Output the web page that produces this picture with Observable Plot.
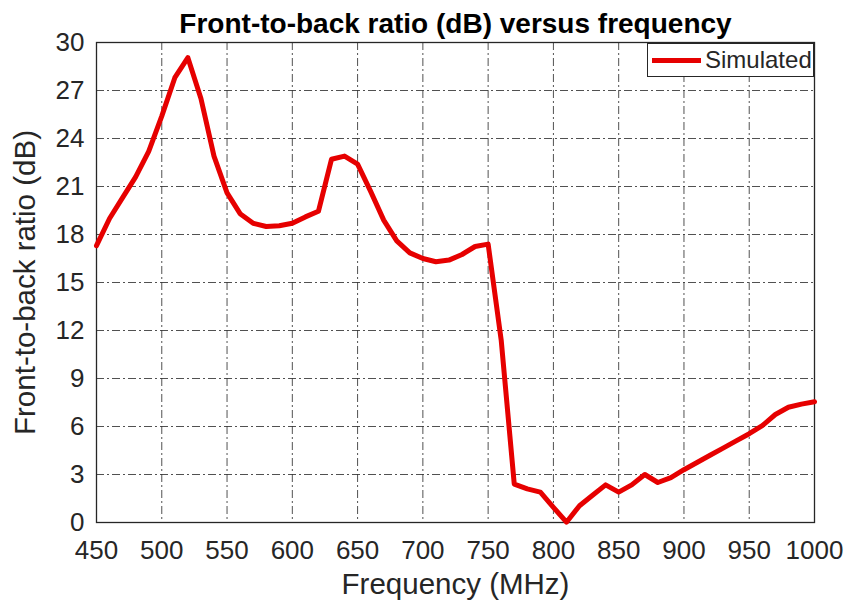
<!DOCTYPE html>
<html>
<head>
<meta charset="utf-8">
<script src="https://cdn.jsdelivr.net/npm/d3@7"></script>
<script src="https://cdn.jsdelivr.net/npm/@observablehq/plot@0.6"></script>
<style>
  body { margin: 0; background: #fff; font-family: "Liberation Sans", Arial, sans-serif; }
  #wrap { position: relative; width: 847px; height: 607px; }
  #legend {
    position: absolute; left: 647px; top: 43px; width: 167px; height: 34px;
    border: 1.3px solid #262626; background: #fff; box-sizing: border-box;
    display: flex; align-items: center; font-size: 24px; color: #262626;
  }
  #legend .swatch { width: 49px; height: 5px; background: #e60000; margin: 0 4px 0 4px; }
</style>
</head>
<body>
<div id="wrap">
  <div id="chart"></div>
  <div id="legend"><div class="swatch"></div><span>Simulated</span></div>
</div>
<script>
// Simulated front-to-back ratio, sampled every 10 MHz
const frequency = d3.range(450, 1001, 10);
const ratioDb = [
  17.3, 19.0, 20.3, 21.6, 23.2, 25.4, 27.8, 29.05, 26.5, 22.9,
  20.6, 19.3, 18.7, 18.5, 18.55, 18.7, 19.1, 19.45, 22.7, 22.9,
  22.4, 20.7, 18.9, 17.6, 16.85, 16.5, 16.3, 16.4, 16.75, 17.25,
  17.4, 11.4, 2.4, 2.1, 1.9, 0.95, 0.02, 1.05, 1.7, 2.35,
  1.9, 2.35, 3.0, 2.5, 2.8, 3.3, 3.75, 4.2, 4.65, 5.1,
  5.55, 6.05, 6.75, 7.2, 7.4, 7.55
];
const xTicks = d3.range(450, 1001, 50);
const yTicks = d3.range(0, 31, 3);

const titleText = "Front-to-back ratio (dB) versus frequency";
const xLabel = "Frequency (MHz)";
const yLabel = "Front-to-back ratio (dB)";

const data = frequency.map((f, i) => ({f, v: ratioDb[i]}));
const ink = "#262626";
const gridDash = "8,3,2,3";

const chart = Plot.plot({
  width: 847,
  height: 607,
  marginTop: 42,
  marginBottom: 85,
  marginLeft: 96,
  marginRight: 33,
  style: {fontFamily: "'Liberation Sans', Arial, sans-serif", fontSize: "26px", color: ink, background: "#fff"},
  x: {domain: [450, 1000], axis: null},
  y: {domain: [0, 30], axis: null},
  marks: [
    Plot.gridX(xTicks, {stroke: "#333", strokeOpacity: 0.85, strokeWidth: 1, strokeDasharray: gridDash}),
    Plot.gridY(yTicks, {stroke: "#333", strokeOpacity: 0.85, strokeWidth: 1, strokeDasharray: gridDash}),
    // tick labels
    Plot.text(xTicks, {x: d => d, text: d => String(d), frameAnchor: "bottom", lineAnchor: "top", dy: 18, fontSize: 26, fill: ink}),
    Plot.text(yTicks, {y: d => d, text: d => String(d), frameAnchor: "left", textAnchor: "end", lineAnchor: "middle", dx: -12, fontSize: 26, fill: ink}),
    Plot.frame({stroke: ink, strokeWidth: 1.3}),
    Plot.line(data, {x: "f", y: "v", stroke: "#e60000", strokeWidth: 5, strokeLinejoin: "round"}),
    Plot.text([xLabel], {frameAnchor: "bottom", lineAnchor: "bottom", dy: 71, fontSize: 29.5, fill: ink}),
    Plot.text([yLabel], {frameAnchor: "left", textAnchor: "middle", lineAnchor: "top", rotate: -90, dx: -82, fontSize: 29.5, fill: ink}),
    Plot.text([titleText], {frameAnchor: "top", lineAnchor: "bottom", dy: -10, fontSize: 28, fontWeight: "bold", fill: "#000"})
  ]
});
document.getElementById("chart").appendChild(chart);
</script>
</body>
</html>
